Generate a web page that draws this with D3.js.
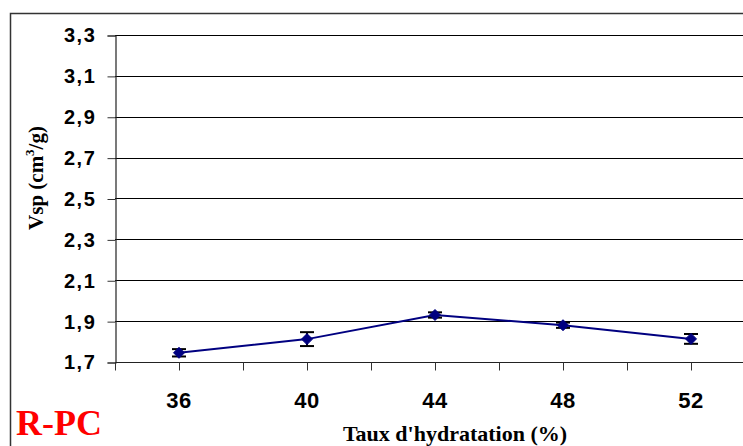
<!DOCTYPE html>
<html>
<head>
<meta charset="utf-8">
<script src="https://cdn.jsdelivr.net/npm/d3@7"></script>
<style>
  html, body { margin: 0; padding: 0; background: #fff; overflow: hidden; }
  svg { display: block; }
</style>
</head>
<body>
<svg id="chart" width="743" height="446"></svg>
<script>
// Specific pore volume versus hydration rate, sample R-PC
const hydration = ["36", "40", "44", "48", "52"];
const vsp = [1.745, 1.812, 1.930, 1.880, 1.813];
const vspErr = [0.018, 0.034, 0.013, 0.013, 0.024];
const yTicks = [1.7, 1.9, 2.1, 2.3, 2.5, 2.7, 2.9, 3.1, 3.3];

const svg = d3.select("#chart");
const W = 743, H = 446;
const plot = { left: 115, top: 35, right: 755, bottom: 362 };

svg.append("rect").attr("width", W).attr("height", H).attr("fill", "#fff");

// outer chart frame
svg.append("rect")
  .attr("x", 10.5).attr("y", 13.5)
  .attr("width", 760).attr("height", 460)
  .attr("fill", "none").attr("stroke", "#333").attr("stroke-width", 1.5);

const x = d3.scaleBand().domain(hydration).range([plot.left, plot.right]);
const y = d3.scaleLinear().domain([1.7, 3.3]).range([plot.bottom, plot.top]);

// horizontal gridlines
svg.append("g").selectAll("line").data(yTicks).join("line")
  .attr("x1", plot.left).attr("x2", plot.right)
  .attr("y1", d => Math.round(y(d)) + 0.5).attr("y2", d => Math.round(y(d)) + 0.5)
  .attr("stroke", "#000").attr("stroke-width", 1);

// y axis
const yAxis = d3.axisLeft(y).tickValues(yTicks)
  .tickFormat(d => d3.format(".1f")(d).replace(".", ","))
  .tickSize(8).tickPadding(11);
const gy = svg.append("g").attr("transform", `translate(${plot.left + 0.5},0.5)`).call(yAxis);
gy.select(".domain").attr("stroke", "#222").attr("stroke-width", 1.2);
gy.selectAll(".tick line").attr("stroke", "#333");
gy.selectAll(".tick text")
  .attr("font-family", "'Liberation Sans', Arial, sans-serif")
  .attr("font-weight", "bold").attr("font-size", 20)
  .attr("letter-spacing", 1.6)
  .attr("fill", "#000");

// x axis: ticks at category centres and boundaries
const halfSteps = [];
hydration.forEach((h, i) => { halfSteps.push(x(h)); halfSteps.push(x(h) + x.bandwidth() / 2); });
halfSteps.push(plot.right);
const gx = svg.append("g").attr("transform", `translate(0,${Math.round(y(1.7)) + 0.5})`);
gx.append("line").attr("x1", plot.left).attr("x2", plot.right)
  .attr("stroke", "#222").attr("stroke-width", 1.2);
gx.selectAll("line.tk").data(halfSteps).join("line").attr("class", "tk")
  .attr("x1", d => Math.round(d) + 0.5).attr("x2", d => Math.round(d) + 0.5)
  .attr("y1", 0).attr("y2", 8).attr("stroke", "#333");
const xAxis = d3.axisBottom(x).tickSize(0).tickPadding(30);
const gxl = svg.append("g").attr("transform", `translate(0,${Math.round(y(1.7))})`).call(xAxis);
gxl.select(".domain").remove();
gxl.selectAll(".tick text")
  .attr("font-family", "'Liberation Sans', Arial, sans-serif")
  .attr("font-weight", "bold").attr("font-size", 22)
  .attr("letter-spacing", 0.5)
  .attr("fill", "#000");

// axis titles
svg.append("text")
  .attr("x", 455).attr("y", 441)
  .attr("text-anchor", "middle")
  .attr("font-family", "'Liberation Serif', 'Times New Roman', serif")
  .attr("font-weight", "bold").attr("font-size", 22)
  .text("Taux d'hydratation (%)");

const yt = svg.append("text")
  .attr("transform", "translate(43,178) rotate(-90)")
  .attr("text-anchor", "middle")
  .attr("font-family", "'Liberation Serif', 'Times New Roman', serif")
  .attr("font-weight", "bold").attr("font-size", 21);
yt.append("tspan").text("Vsp (cm");
yt.append("tspan").attr("dy", -9).attr("font-size", 13).text("3");
yt.append("tspan").attr("dy", 9).text("/g)");

// sample label
svg.append("text")
  .attr("x", 16).attr("y", 435)
  .attr("font-family", "'Liberation Serif', 'Times New Roman', serif")
  .attr("font-weight", "bold").attr("font-size", 36)
  .attr("fill", "#ff0000")
  .text("R-PC");

// data series
const pts = hydration.map((h, i) => ({ cx: x(h) + x.bandwidth() / 2, v: vsp[i], e: vspErr[i] }));

svg.append("path")
  .attr("d", d3.line().x(d => d.cx).y(d => y(d.v))(pts))
  .attr("fill", "none").attr("stroke", "#000080").attr("stroke-width", 2);

// error bars
const eb = svg.append("g").attr("stroke", "#000").attr("stroke-width", 2);
pts.forEach(d => {
  eb.append("line").attr("x1", d.cx).attr("x2", d.cx)
    .attr("y1", y(d.v + d.e)).attr("y2", y(d.v - d.e));
  eb.append("line").attr("x1", d.cx - 7).attr("x2", d.cx + 7)
    .attr("y1", y(d.v + d.e)).attr("y2", y(d.v + d.e));
  eb.append("line").attr("x1", d.cx - 7).attr("x2", d.cx + 7)
    .attr("y1", y(d.v - d.e)).attr("y2", y(d.v - d.e));
});

// diamond markers
svg.append("g").selectAll("path").data(pts).join("path")
  .attr("transform", d => `translate(${d.cx},${y(d.v)})`)
  .attr("d", "M0,-5.5L5.5,0L0,5.5L-5.5,0Z")
  .attr("fill", "#000080").attr("stroke", "#000080").attr("stroke-width", 1);
</script>
</body>
</html>
